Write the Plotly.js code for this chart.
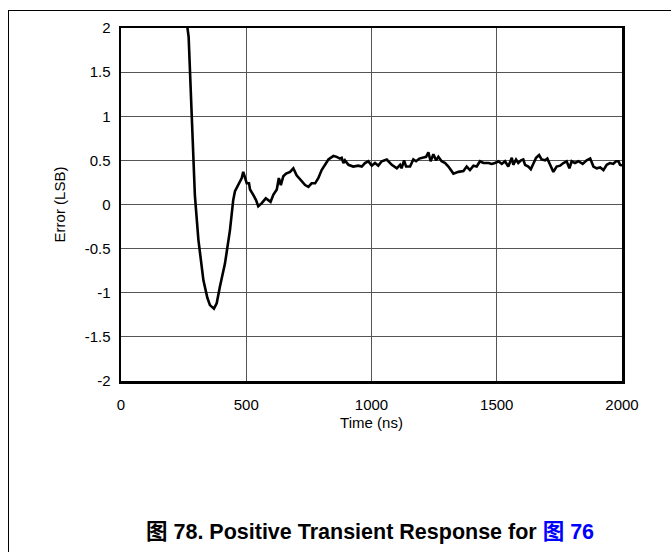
<!DOCTYPE html>
<html>
<head>
<meta charset="utf-8">
<script src="https://cdn.plot.ly/plotly-3.0.1.min.js"></script>
<style>
html,body{margin:0;padding:0;background:#fff;overflow:hidden;width:671px;height:552px;}
#frame{position:absolute;left:8px;top:10px;width:700px;height:600px;border:1px solid #000;box-sizing:border-box;}
#chart{position:absolute;left:0;top:0;width:671px;height:552px;}
</style>
</head>
<body>
<div id="frame"></div>
<div id="chart"></div>
<script>
// Time (ns)
const timeNs = [255,263,270,275,282,289,295,309,329,345,355,371,382,395,415,435,448,455,462,468,475,482,488,495,502,511,515,528,539,548,562,578,588,597,608,622,630,638,648,659,675,688,701,715,735,748,761,775,788,801,815,828,848,861,874,881,888,894,908,927,947,961,974,987,1001,1014,1027,1041,1061,1081,1101,1114,1120,1130,1138,1154,1167,1178,1191,1207,1218,1227,1236,1247,1258,1267,1280,1294,1307,1327,1347,1367,1380,1393,1407,1420,1433,1447,1467,1480,1493,1507,1520,1533,1546,1560,1566,1577,1586,1597,1606,1613,1626,1636,1646,1657,1669,1679,1693,1702,1713,1726,1739,1753,1766,1779,1790,1799,1812,1826,1843,1859,1873,1886,1899,1913,1926,1939,1952,1965,1976,1986,1992,2000];
// Error (LSB)
const errorLsb = [2.4,2.05,1.9,1.5,1.0,0.5,0.1,-0.40,-0.86,-1.06,-1.14,-1.18,-1.12,-0.93,-0.67,-0.29,0.05,0.15,0.19,0.22,0.25,0.30,0.37,0.30,0.24,0.24,0.17,0.11,0.05,-0.02,0.015,0.07,0.05,0.03,0.11,0.17,0.30,0.22,0.32,0.35,0.37,0.41,0.33,0.28,0.22,0.20,0.24,0.24,0.30,0.39,0.45,0.51,0.55,0.54,0.52,0.53,0.47,0.50,0.45,0.43,0.44,0.43,0.47,0.49,0.44,0.47,0.44,0.49,0.51,0.45,0.41,0.45,0.41,0.50,0.43,0.43,0.51,0.49,0.52,0.53,0.54,0.59,0.49,0.57,0.50,0.54,0.49,0.47,0.43,0.35,0.37,0.38,0.43,0.39,0.44,0.43,0.49,0.47,0.47,0.46,0.47,0.49,0.46,0.49,0.43,0.53,0.45,0.51,0.47,0.50,0.51,0.45,0.43,0.40,0.47,0.53,0.56,0.51,0.50,0.52,0.45,0.37,0.43,0.44,0.47,0.49,0.41,0.49,0.47,0.49,0.46,0.50,0.52,0.43,0.41,0.42,0.39,0.45,0.47,0.46,0.49,0.49,0.45,0.44];
const xTicks = [0,500,1000,1500,2000];
const yTicks = [-2,-1.5,-1,-0.5,0,0.5,1,1.5,2];
const yTickText = ['-2','-1.5','-1','-0.5','0','0.5','1','1.5','2'];

const font = {family:'"Liberation Sans", Arial, sans-serif', size:15, color:'#000'};

Plotly.newPlot('chart', [{
  x: timeNs, y: errorLsb, type:'scatter', mode:'lines',
  line:{color:'#000', width:2.6}, hoverinfo:'skip'
}], {
  width:671, height:552,
  margin:{l:121, r:49, t:28, b:171, pad:0},
  paper_bgcolor:'rgba(0,0,0,0)', plot_bgcolor:'#fff',
  showlegend:false,
  font: font,
  xaxis:{
    range:[0,2000], tickmode:'array', tickvals:xTicks, ticks:'',
    showgrid:true, gridcolor:'#555', gridwidth:1, zeroline:false,
    showline:true, mirror:true, linecolor:'#000', linewidth:2.5,
    tickfont:font, ticklabelstandoff:8,
    title:{text:'Time (ns)', font:font, standoff:6}
  },
  yaxis:{
    range:[-2,2], tickmode:'array', tickvals:yTicks, ticktext:yTickText, ticks:'',
    showgrid:true, gridcolor:'#555', gridwidth:1, zeroline:false,
    showline:true, mirror:true, linecolor:'#000', linewidth:2.5,
    tickfont:font, ticklabelstandoff:5,
    title:{text:'Error (LSB)', font:font, standoff:16}
  },
  annotations:[{
    xref:'paper', yref:'paper', x:0.497, y:-0.428, xanchor:'center', yanchor:'middle',
    showarrow:false,
    text:'<b>图 78. Positive Transient Response for <span style="color:#0000ff">图 76</span></b>',
    font:{family:'"Liberation Sans", Arial, "Noto Sans CJK SC", sans-serif', size:21.5, color:'#000'}
  }]
}, {staticPlot:true, displayModeBar:false});
</script>
</body>
</html>
